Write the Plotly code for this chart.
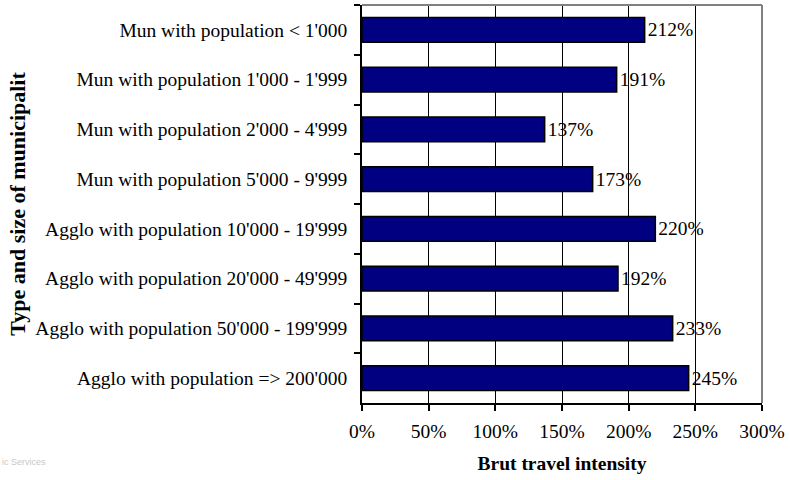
import plotly.graph_objects as go

categories = [
    "Mun with population < 1'000",
    "Mun with population 1'000 - 1'999",
    "Mun with population 2'000 - 4'999",
    "Mun with population 5'000 - 9'999",
    "Agglo with population 10'000 - 19'999",
    "Agglo with population 20'000 - 49'999",
    "Agglo with population 50'000 - 199'999",
    "Agglo with population => 200'000",
]
values = [212, 191, 137, 173, 220, 192, 233, 245]
x_ticks = [0, 50, 100, 150, 200, 250, 300]
x_tick_labels = ["0%", "50%", "100%", "150%", "200%", "250%", "300%"]

W, H = 790, 480
L, R, T, B = 362, 28, 5, 77
pw, ph = W - L - R, H - T - B

FONT = "Liberation Serif, Times New Roman, serif"
FS = 19.5

fig = go.Figure(
    go.Bar(
        x=values,
        y=categories,
        orientation="h",
        marker=dict(color="#000080", line=dict(color="black", width=1.5)),
        text=[f"{v}%" for v in values],
        textposition="outside",
        textfont=dict(family=FONT, size=FS, color="black"),
        cliponaxis=False,
    )
)

fig.update_layout(
    width=W,
    height=H,
    margin=dict(l=L, r=R, t=T, b=B),
    paper_bgcolor="white",
    plot_bgcolor="white",
    bargap=0.5,
    showlegend=False,
    font=dict(family=FONT, size=FS, color="black"),
    xaxis=dict(
        range=[0, 300],
        tickvals=x_ticks,
        ticktext=x_tick_labels,
        showgrid=True,
        gridcolor="black",
        gridwidth=1,
        zeroline=False,
        showline=True,
        linecolor="black",
        linewidth=1.5,
        ticks="outside",
        ticklen=6,
        tickwidth=1.5,
        tickcolor="black",
        ticklabelstandoff=4,
        tickfont=dict(family=FONT, size=FS),
        title=dict(text="<b>Brut travel intensity</b>", font=dict(family=FONT, size=19.5), standoff=15),
    ),
    yaxis=dict(
        autorange="reversed",
        showgrid=False,
        showline=True,
        linecolor="black",
        linewidth=1.5,
        ticks="outside",
        tickson="boundaries",
        ticklen=6,
        tickwidth=1.5,
        tickcolor="black",
        ticklabelstandoff=9,
        tickfont=dict(family=FONT, size=FS),
        title=dict(text="<b>Type and size of municipalit</b>", font=dict(family=FONT, size=22), standoff=4),
    ),
    shapes=[
        dict(type="line", xref="paper", yref="paper", x0=0, x1=1, y0=1, y1=1,
             line=dict(color="#808080", width=2)),
        dict(type="line", xref="paper", yref="paper", x0=1, x1=1, y0=0, y1=1,
             line=dict(color="#808080", width=2)),
    ],
    annotations=[
        dict(text="ic Services", xref="paper", yref="paper",
             x=-L / pw, y=(T + ph - 462) / ph, xanchor="left", yanchor="middle",
             showarrow=False, font=dict(family="Arial, sans-serif", size=9, color="#c8c8c8")),
    ],
)

fig.write_html("out.html")
